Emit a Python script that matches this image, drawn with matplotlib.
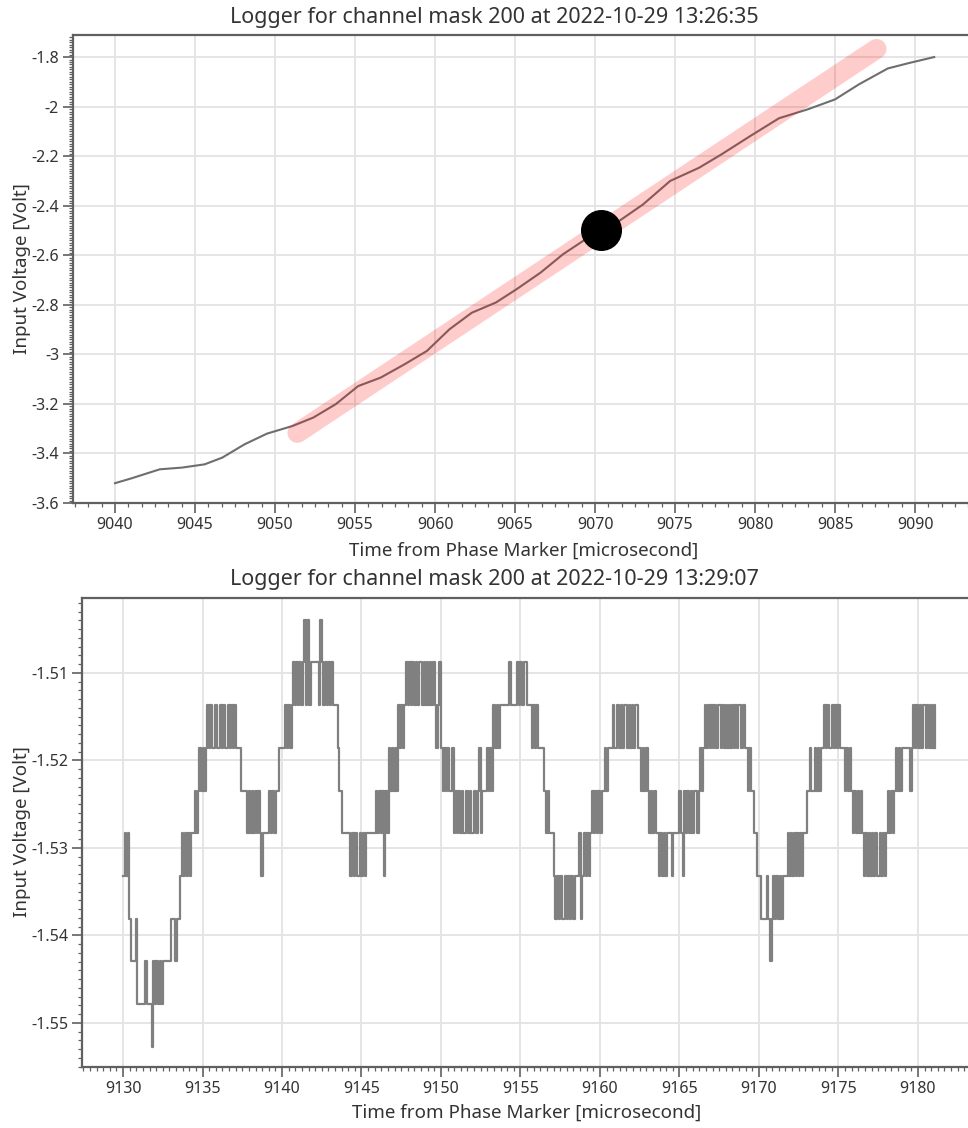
import numpy as np
import matplotlib
matplotlib.use("Agg")
import matplotlib.pyplot as plt
from matplotlib.ticker import MultipleLocator, AutoMinorLocator, FuncFormatter

# ============================================================================
# DATA
# ============================================================================

# Top capture: 2022-10-29 13:26:35, smooth ramp
top_title = "Logger for channel mask 200 at 2022-10-29 13:26:35"
top_t = [9040.0, 9041.0, 9042.8, 9044.2, 9045.6, 9046.7, 9048.1, 9049.5,
         9051.1, 9052.4, 9053.8, 9055.2, 9056.6, 9058.1, 9059.5, 9060.9,
         9062.3, 9063.8, 9065.1, 9066.6, 9068.0, 9069.4, 9071.5, 9073.0,
         9074.7, 9076.5, 9077.9, 9079.7, 9081.5, 9083.3, 9085.0, 9086.5,
         9088.3, 9089.7, 9091.2]
top_v = [-3.520, -3.501, -3.464, -3.457, -3.444, -3.417, -3.363, -3.320,
         -3.289, -3.255, -3.201, -3.128, -3.094, -3.040, -2.986, -2.899,
         -2.832, -2.791, -2.737, -2.670, -2.596, -2.536, -2.462, -2.395,
         -2.300, -2.247, -2.193, -2.119, -2.047, -2.011, -1.971, -1.910,
         -1.846, -1.823, -1.800]

# Fitted slope overlay and the marked point
fit_t = [9051.4, 9087.6]
fit_v = [-3.317, -1.767]
mark_t = 9070.4
mark_v = -2.50

# Bottom capture: 2022-10-29 13:29:07, quantised (ADC codes) signal
bottom_title = "Logger for channel mask 200 at 2022-10-29 13:29:07"
lsb = 0.004883           # one ADC step [Volt]
code0_volt = -1.5039     # voltage of code 0 (highest level seen)
sample_dt = 0.1          # microsecond per sample
# one string per microsecond, one char per sample (code, 'a' = 10)
bottom_rows = [
    (9130, "6565788879"),
    (9131, "99998999a8"),
    (9132, "9898988888"),
    (9133, "7778776565"),
    (9134, "6565545434"),
    (9135, "3432323323"),
    (9136, "3232332323"),
    (9137, "2333444454"),
    (9138, "5454545655"),
    (9139, "5545454433"),
    (9140, "3323232121"),
    (9141, "2121020211"),
    (9142, "1112012121"),
    (9143, "2122234455"),
    (9144, "5556565665"),
    (9145, "6565555554"),
    (9146, "5454645343"),
    (9147, "4342323212"),
    (9148, "1212121121"),
    (9149, "2121212321"),
    (9150, "3434344354"),
    (9151, "5454554545"),
    (9152, "5454354443"),
    (9153, "4342323222"),
    (9154, "2221222212"),
    (9155, "1211222323"),
    (9156, "2333345455"),
    (9157, "5676767767"),
    (9158, "6767666576"),
    (9159, "5656545454"),
    (9160, "5443433323"),
    (9161, "3232322323"),
    (9162, "2322334343"),
    (9163, "4545455656"),
    (9164, "5655565555"),
    (9165, "4564545454"),
    (9166, "4543432323"),
    (9167, "2323223232"),
    (9168, "3232323223"),
    (9169, "2334344556"),
    (9170, "6777767876"),
    (9171, "7676766656"),
    (9172, "5656565655"),
    (9173, "4434434343"),
    (9174, "3232332323"),
    (9175, "2333434345"),
    (9176, "4545456565"),
    (9177, "6565665656"),
    (9178, "5454543434"),
    (9179, "3333343232"),
    (9180, "3232232323"),
    (9181, "23"),
]

x_label = "Time from Phase Marker [microsecond]"
y_label = "Input Voltage [Volt]"

# ============================================================================
# STYLE
# ============================================================================
plt.rcParams['font.family'] = ['Noto Sans', 'DejaVu Sans']
plt.rcParams['axes.unicode_minus'] = False

W, H = 968, 1128
TEXT = "#333333"
SPINE = "#606060"
GRID = "#e3e3e3"
TITLE_FS = 15.5
LABEL_FS = 13.5

fig = plt.figure(figsize=(W / 100, H / 100), dpi=100)


def add_px_axes(left, top, right, bottom):
    return fig.add_axes([left / W, 1 - bottom / H,
                         (right - left) / W, (bottom - top) / H])


def style_axes(ax, x_minor, y_minor, yfmt):
    for side in ["left", "bottom", "top"]:
        ax.spines[side].set_color(SPINE)
        ax.spines[side].set_linewidth(1.6)
    ax.spines["right"].set_visible(False)
    ax.xaxis.set_major_locator(MultipleLocator(5))
    ax.xaxis.set_minor_locator(AutoMinorLocator(x_minor))
    ax.yaxis.set_minor_locator(AutoMinorLocator(y_minor))
    ax.xaxis.set_major_formatter(FuncFormatter(lambda v, p: f"{v:.0f}"))
    ax.yaxis.set_major_formatter(FuncFormatter(yfmt))
    ax.tick_params(which="major", length=7, width=1.2, color=SPINE,
                   labelsize=11.5, labelcolor=TEXT, pad=3)
    ax.tick_params(which="minor", length=3, width=0.9, color=SPINE)
    ax.grid(True, which="major", color=GRID, lw=1.3)
    ax.set_axisbelow(True)


# ============================================================================
# TOP PANEL
# ============================================================================
ax1 = add_px_axes(73, 35, 975, 503)
ax1.plot(top_t, top_v, color="#6e6e6e", lw=1.5, zorder=3)
ax1.plot(fit_t, fit_v, color="red", alpha=0.2, lw=14.4,
         solid_capstyle="round", zorder=4)
ax1.plot(mark_t, mark_v, "o", color="black", ms=28.5, zorder=5)
ax1.set_xlim(9037.375, 9093.75)
ax1.set_ylim(-3.6, -1.711)
ax1.yaxis.set_major_locator(MultipleLocator(0.2))
style_axes(ax1, 6, 20, lambda v, p: f"{round(v, 2):g}")

fig.text(494 / W, 1 - 17 / H, top_title, ha="center", va="center",
         fontsize=TITLE_FS, color=TEXT)
fig.text(524 / W, 1 - 551 / H, x_label, ha="center", va="center",
         fontsize=LABEL_FS, color=TEXT)
fig.text(22 / W, 1 - 269 / H, y_label, ha="center", va="center",
         rotation=90, fontsize=LABEL_FS, color=TEXT)

# ============================================================================
# BOTTOM PANEL
# ============================================================================
bt, bv = [], []
for row_t, codes in bottom_rows:
    for j, c in enumerate(codes):
        bt.append(row_t + j * sample_dt)
        bv.append(code0_volt - int(c, 16) * lsb)

ax2 = add_px_axes(82, 598, 972, 1067)
ax2.plot(bt, bv, color="#808080", lw=1.6, drawstyle="steps-post", zorder=3)
ax2.set_xlim(9127.42, 9183.4)
ax2.set_ylim(-1.55503, -1.50143)
ax2.yaxis.set_major_locator(MultipleLocator(0.01))
style_axes(ax2, 12, 10, lambda v, p: f"{round(v, 3):g}")

fig.text(494 / W, 1 - 580 / H, bottom_title, ha="center", va="center",
         fontsize=TITLE_FS, color=TEXT)
fig.text(527 / W, 1 - 1113 / H, x_label, ha="center", va="center",
         fontsize=LABEL_FS, color=TEXT)
fig.text(22 / W, 1 - 832 / H, y_label, ha="center", va="center",
         rotation=90, fontsize=LABEL_FS, color=TEXT)

fig.savefig("out.png", dpi=100)
